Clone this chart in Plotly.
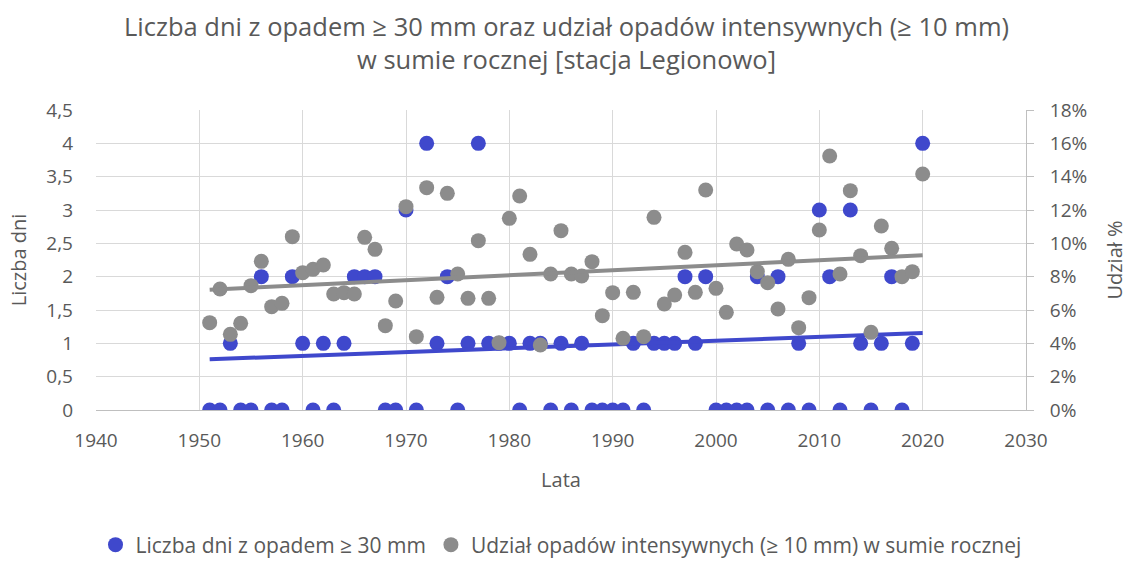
import numpy as np
import plotly.graph_objects as go

years = list(range(1951, 2021))

dni_30mm = [0, 0, 1, 0, 0, 2, 0, 0, 2, 1,
            0, 1, 0, 1, 2, 2, 2, 0, 0, 3,
            0, 4, 1, 2, 0, 1, 4, 1, 1, 1,
            0, 1, 1, 0, 1, 0, 1, 0, 0, 0,
            0, 1, 0, 1, 1, 1, 2, 1, 2, 0,
            0, 0, 0, 2, 0, 2, 0, 1, 0, 3,
            2, 0, 3, 1, 0, 1, 2, 0, 1, 4]

udzial_pct = [5.24, 7.26, 4.54, 5.2, 7.46, 8.92, 6.2, 6.4, 10.4, 8.24,
              8.44, 8.7, 6.96, 7.04, 6.96, 10.36, 9.64, 5.06, 6.54, 12.2,
              4.4, 13.34, 6.76, 13.0, 8.16, 6.7, 10.16, 6.7, 4.04, 11.5,
              12.84, 9.34, 3.9, 8.16, 10.76, 8.16, 8.04, 8.9, 5.66, 7.04,
              4.3, 7.06, 4.4, 11.56, 6.36, 6.9, 9.46, 7.06, 13.2, 7.3,
              5.86, 9.96, 9.6, 8.3, 7.64, 6.06, 9.04, 4.94, 6.74, 10.8,
              15.24, 8.16, 13.16, 9.26, 4.66, 11.04, 9.7, 8.0, 8.3, 14.16]

name_blue = "Liczba dni z opadem ≥ 30 mm"
name_grey = "Udział opadów intensywnych (≥ 10 mm) w sumie rocznej"

BLUE = "#3f48cc"
GREY = "#8c8c8c"
TXT = "#595959"
AXC = "#bfbfbf"
FONT = "Open Sans, Noto Sans, sans-serif"

yr = np.array(years, dtype=float)
cb = np.polyfit(yr, np.array(dni_30mm, dtype=float), 1)
cg = np.polyfit(yr, np.array(udzial_pct, dtype=float), 1)
tx = [years[0], years[-1]]

fig = go.Figure()
fig.add_trace(go.Scatter(x=years, y=dni_30mm, mode="markers", name=name_blue,
                         marker=dict(color=BLUE, size=15, line=dict(width=0))))
fig.add_trace(go.Scatter(x=years, y=udzial_pct, mode="markers", name=name_grey, yaxis="y2",
                         marker=dict(color=GREY, size=15, line=dict(width=0))))
fig.add_trace(go.Scatter(x=tx, y=list(np.polyval(cg, tx)), mode="lines", yaxis="y2",
                         line=dict(color=GREY, width=4), showlegend=False, hoverinfo="skip"))
fig.add_trace(go.Scatter(x=tx, y=list(np.polyval(cb, tx)), mode="lines",
                         line=dict(color=BLUE, width=4), showlegend=False, hoverinfo="skip"))

fig.update_layout(
    width=1133, height=561,
    margin=dict(l=96, r=107, t=110, b=151, autoexpand=False),
    paper_bgcolor="white", plot_bgcolor="white",
    separators=", ",
    font=dict(family=FONT, color=TXT, size=19),
    title=dict(text="Liczba dni z opadem ≥ 30 mm oraz udział opadów intensywnych (≥ 10 mm)<br>w sumie rocznej [stacja Legionowo]",
               x=0.5, xanchor="center", xref="container", y=1 - 36 / 561, yanchor="middle", yref="container",
               font=dict(size=25.5, color=TXT, family=FONT)),
    xaxis=dict(range=[1940, 2030], dtick=10, tick0=1940, showgrid=True, gridcolor="#d9d9d9",
               showline=True, linecolor=AXC, zeroline=False, ticks="", ticklabelstandoff=13,
               tickfont=dict(size=19),
               title=dict(text="Lata", font=dict(size=20), standoff=21)),
    yaxis=dict(range=[0, 4.5], dtick=0.5, showgrid=True, gridcolor="#d9d9d9", zeroline=False,
               ticks="", ticklabelstandoff=22, tickfont=dict(size=19),
               title=dict(text="Liczba dni", font=dict(size=20), standoff=14)),
    yaxis2=dict(range=[0, 18], dtick=2, overlaying="y", side="right", showgrid=False, zeroline=False,
                showline=True, linecolor=AXC, ticks="outside", ticklen=7, tickcolor=AXC,
                ticksuffix="%", ticklabelstandoff=12, tickfont=dict(size=19),
                title=dict(text="Udział %", font=dict(size=20), standoff=21)),
    legend=dict(orientation="h", x=0.5, xanchor="center", y=-0.45, yanchor="middle",
                font=dict(size=21, color=TXT), itemwidth=30, tracegroupgap=0),
    showlegend=True,
)

fig.write_html("out.html", post_script="document.body.style.margin='0';",
               config={"displayModeBar": False})
